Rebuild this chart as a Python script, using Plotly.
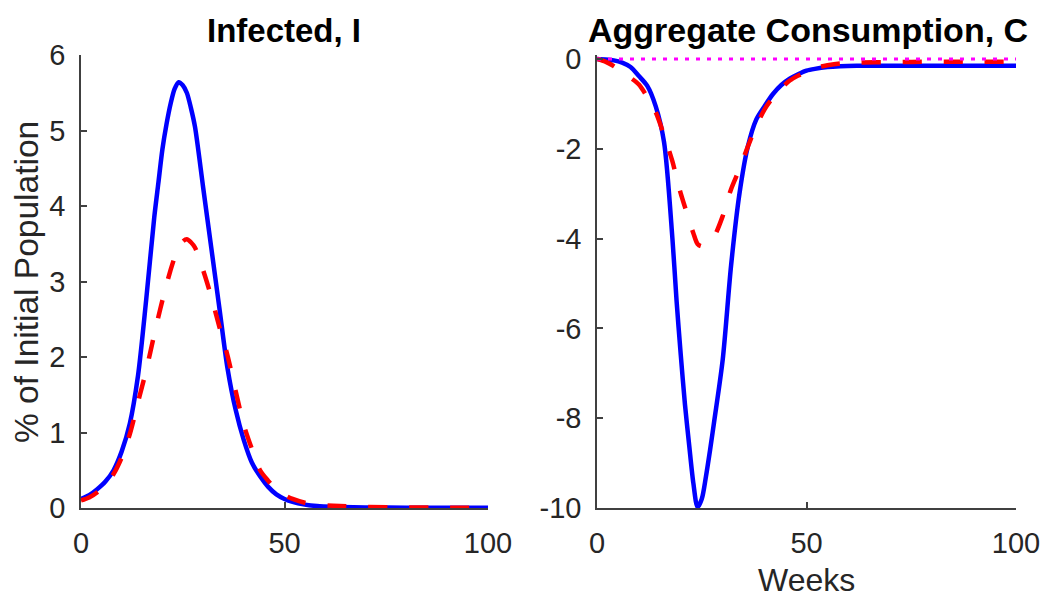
import plotly.graph_objects as go

# ---- data ----
weeks = [0, 2, 4, 6, 8, 10, 12, 14, 16, 18, 19, 20, 21, 22, 23, 24, 25, 26, 27, 28, 30, 32, 34,
         36, 38, 40, 42, 44, 46, 48, 50, 52, 55, 58, 62, 70, 80, 90, 100]

infected_base = [0.12, 0.17, 0.25, 0.35, 0.5, 0.75, 1.12, 1.75, 2.75, 3.85, 4.3, 4.75, 5.08, 5.35,
                 5.55, 5.64, 5.6, 5.5, 5.3, 5.05, 4.25, 3.45, 2.65, 1.85, 1.3, 0.9, 0.6, 0.42,
                 0.28, 0.18, 0.12, 0.08, 0.045, 0.025, 0.015, 0.008, 0.004, 0.003, 0.002]

infected_alt = [0.10, 0.14, 0.21, 0.31, 0.45, 0.67, 0.98, 1.4, 1.82, 2.3, 2.53, 2.75, 2.96, 3.15,
                3.32, 3.45, 3.53, 3.56, 3.52, 3.45, 3.15, 2.8, 2.4, 2.02, 1.55, 1.1, 0.78, 0.5,
                0.36, 0.24, 0.17, 0.12, 0.07, 0.045, 0.03, 0.015, 0.008, 0.005, 0.004]

consumption_base = [0, -0.01, -0.03, -0.08, -0.18, -0.38, -0.6, -1.05, -1.85, -4.0, -5.4, -6.6,
                    -7.7, -8.6, -9.45, -9.98, -9.8, -9.3, -8.7, -8.05, -6.7, -4.6, -3.0, -1.95,
                    -1.35, -1.05, -0.78, -0.58, -0.44, -0.34, -0.26, -0.22, -0.18, -0.16, -0.15,
                    -0.15, -0.15, -0.15, -0.15]

consumption_alt = [0, -0.06, -0.16, -0.3, -0.42, -0.57, -0.85, -1.18, -1.7, -2.28, -2.65, -3.0,
                   -3.3, -3.6, -3.88, -4.12, -4.17, -4.1, -4.05, -3.95, -3.5, -2.9, -2.45, -1.95,
                   -1.5, -1.12, -0.86, -0.65, -0.48, -0.37, -0.28, -0.2, -0.14, -0.1, -0.08,
                   -0.07, -0.06, -0.06, -0.06]

ref_weeks = [0, 100]
ref_zero = [0, 0]

x_ticks = [0, 50, 100]
y1_ticks = [0, 1, 2, 3, 4, 5, 6]
y2_ticks = [-10, -8, -6, -4, -2, 0]
y2_labels = ["-10", "-8", "-6", "-4", "-2", "0"]

title_left = "Infected, I"
title_right = "Aggregate Consumption, C"
y_title = "% of Initial Population"
x_title = "Weeks"

# ---- styling ----
BLUE = "#0000ff"
RED = "#ff0000"
MAGENTA = "#ff00ff"
AXC = "#404040"
TXT = "#262626"
FONT = "Liberation Sans, Arial, sans-serif"
W, H = 1044, 599

fig = go.Figure()

solid = dict(color=BLUE, width=4.5, shape="spline", smoothing=0.8)
dashed = dict(color=RED, width=4.5, dash="19px,22px", shape="spline", smoothing=0.8)

fig.add_trace(go.Scatter(x=weeks, y=infected_base, mode="lines", xaxis="x", yaxis="y", line=solid))
fig.add_trace(go.Scatter(x=weeks, y=infected_alt, mode="lines", xaxis="x", yaxis="y", line=dashed))

fig.add_trace(go.Scatter(x=weeks, y=consumption_base, mode="lines", xaxis="x2", yaxis="y2", line=solid))
fig.add_trace(go.Scatter(x=weeks, y=consumption_alt, mode="lines", xaxis="x2", yaxis="y2", line=dashed))
fig.add_trace(go.Scatter(x=ref_weeks, y=ref_zero, mode="lines", xaxis="x2", yaxis="y2",
                         line=dict(color=MAGENTA, width=3, dash="4px,7px")))


def px_x(p):
    return p / W


def px_y(p):
    return 1 - p / H


axis_common = dict(showline=True, linecolor=AXC, linewidth=1.5, ticks="inside", ticklen=6,
                   tickcolor=AXC, tickwidth=1.5, showgrid=False, zeroline=False, mirror=False,
                   automargin=False,
                   tickfont=dict(family=FONT, size=29, color=TXT))

fig.update_layout(
    width=W, height=H, autosize=False,
    margin=dict(l=0, r=0, t=0, b=0, pad=0, autoexpand=False),
    paper_bgcolor="white", plot_bgcolor="white",
    showlegend=False,
    xaxis=dict(domain=[px_x(81), px_x(488)], range=[0, 100], tickvals=x_ticks,
               anchor="y", ticklabelstandoff=8, **axis_common),
    yaxis=dict(domain=[px_y(508), px_y(55)], range=[0, 6], tickvals=y1_ticks,
               anchor="x", ticklabelstandoff=8, **axis_common),
    xaxis2=dict(domain=[px_x(597), px_x(1016)], range=[0, 100], tickvals=x_ticks,
                anchor="y2", ticklabelstandoff=8, **axis_common),
    yaxis2=dict(domain=[px_y(508), px_y(55.4)], range=[-10, 0.08], tickvals=y2_ticks,
                ticktext=y2_labels, anchor="x2", ticklabelstandoff=8, **axis_common),
    annotations=[
        dict(text="<b>" + title_left + "</b>", x=px_x(284), y=px_y(30), xref="paper", yref="paper",
             xanchor="center", yanchor="middle", showarrow=False,
             font=dict(family=FONT, size=33, color="black")),
        dict(text="<b>" + title_right + "</b>", x=px_x(808), y=px_y(30), xref="paper", yref="paper",
             xanchor="center", yanchor="middle", showarrow=False,
             font=dict(family=FONT, size=34, color="black")),
        dict(text=y_title, x=px_x(26), y=px_y(282), xref="paper", yref="paper",
             xanchor="center", yanchor="middle", textangle=-90, showarrow=False,
             font=dict(family=FONT, size=33.5, color=TXT)),
        dict(text=x_title, x=px_x(806), y=px_y(580), xref="paper", yref="paper",
             xanchor="center", yanchor="middle", showarrow=False,
             font=dict(family=FONT, size=32, color=TXT)),
    ],
)

fig.write_html("out.html")
